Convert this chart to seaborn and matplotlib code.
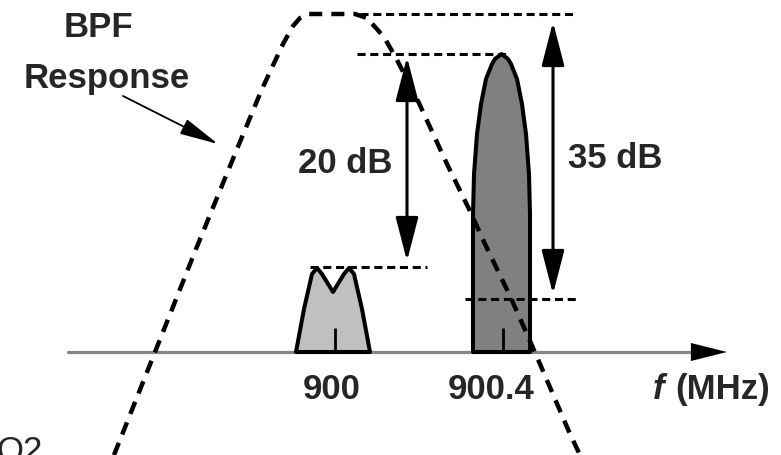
import matplotlib
matplotlib.use("Agg")
import matplotlib.pyplot as plt
import seaborn as sns

# everything below in pixel units (y grows downward)
axis_y = 353
axis_x = [68, 695]
axis_head = [690, 727]

# BPF response (dashed)
bpf_x = [114, 155, 196, 237, 262, 283, 293, 300, 308, 355, 367, 384, 396, 418, 447, 470, 485, 510, 530, 540, 570, 580]
bpf_y = [456, 353, 250, 150, 90, 45, 27, 19, 15, 15, 19, 38, 59, 102, 165, 212, 245, 297, 342, 365, 435, 456]

# weak tone at 900 MHz
small_x = [296, 304, 312, 317, 322, 333, 344, 349, 354, 362, 370]
small_y = [353, 310, 275, 269, 275, 293, 275, 269, 275, 310, 353]

# strong tone at 900.4 MHz
big_x = [473, 473, 474, 477, 481, 486, 492, 495, 501.5, 508, 511, 517, 522, 526, 529, 530, 530]
big_y = [353, 215, 175, 135, 105, 80, 65, 60, 55, 60, 65, 80, 105, 135, 175, 215, 353]

tick_x = [335, 503]
tick_labels = ["900", "900.4"]
tick_label_x = [332, 491]

# dashed reference levels
ref_y = [15, 55, 268, 300]
ref_x0 = [360, 357, 310, 465]
ref_x1 = [573, 508, 427, 580]

# dimension arrows
dim_x = [407, 553]
dim_top = [58, 23]
dim_bottom = [262, 295]
dim_labels = ["20 dB", "35 dB"]
dim_label_x = [345, 615]
dim_label_y = [173, 168]

sns.set_style("white")
plt.rcParams["font.family"] = ["Liberation Sans", "DejaVu Sans"]
plt.rcParams["lines.scale_dashes"] = False

fig = plt.figure(figsize=(7.81, 4.56), dpi=100)
ax = fig.add_axes([0, 0, 1, 1])
ax.set_xlim(0, 781)
ax.set_ylim(456, 0)
ax.axis("off")

# frequency axis
ax.plot(axis_x, [axis_y, axis_y], color="#858585", lw=2.3, zorder=2)
ax.annotate("", xy=(axis_head[1], axis_y), xytext=(axis_head[0], axis_y),
            arrowprops=dict(arrowstyle="-|>,head_length=26,head_width=6.5",
                            mutation_scale=1, color="black", lw=0,
                            shrinkA=0, shrinkB=0), zorder=3)

# tones
ax.fill(small_x, small_y, facecolor="#c0c0c0", edgecolor="black", lw=2.9,
        joinstyle="round", zorder=3)
ax.fill(big_x, big_y, facecolor="#808080", edgecolor="black", lw=2.9,
        joinstyle="round", zorder=3)
ax.vlines(tick_x, axis_y - 24, axis_y, color="black", lw=2.0, zorder=4)

# reference levels
ax.hlines(ref_y, ref_x0, ref_x1, color="black", lw=2.2,
          linestyles=[(0, (5.8, 3.4))], zorder=5)

# BPF response curve
sns.lineplot(x=bpf_x, y=bpf_y, sort=False, estimator=None, ax=ax,
             color="black", lw=3.2, linestyle=(0, (9.4, 6.5)), zorder=6)

# dimension arrows
for x, t, b in zip(dim_x, dim_top, dim_bottom):
    ax.annotate("", xy=(x, t), xytext=(x, b),
                arrowprops=dict(arrowstyle="<|-|>,head_length=27,head_width=7",
                                mutation_scale=1, color="black", lw=2.2,
                                shrinkA=0, shrinkB=0), zorder=7)
for x, y, s in zip(dim_label_x, dim_label_y, dim_labels):
    ax.text(x, y, s, fontsize=25, fontweight="bold", ha="center", va="baseline")

# pointer to the curve
ax.annotate("", xy=(218, 145), xytext=(123, 97),
            arrowprops=dict(arrowstyle="-|>,head_length=24,head_width=5",
                            mutation_scale=1, color="black", lw=1.3,
                            shrinkA=0, shrinkB=0), zorder=7)
ax.text(98, 37, "BPF", fontsize=25, fontweight="bold", ha="center", va="baseline")
ax.text(107, 88, "Response", fontsize=25, fontweight="bold", ha="center", va="baseline")

for x, s in zip(tick_label_x, tick_labels):
    ax.text(x, 399, s, fontsize=25, fontweight="bold", ha="center", va="baseline")
ax.text(653, 399, "f", fontsize=25, fontweight="bold", fontstyle="italic",
        ha="left", va="baseline")
ax.text(675, 399, "(MHz)", fontsize=25, fontweight="bold", ha="left", va="baseline")

ax.text(-4, 461, "Q2", fontsize=25, ha="left", va="baseline")

fig.savefig("out.png", dpi=100)
